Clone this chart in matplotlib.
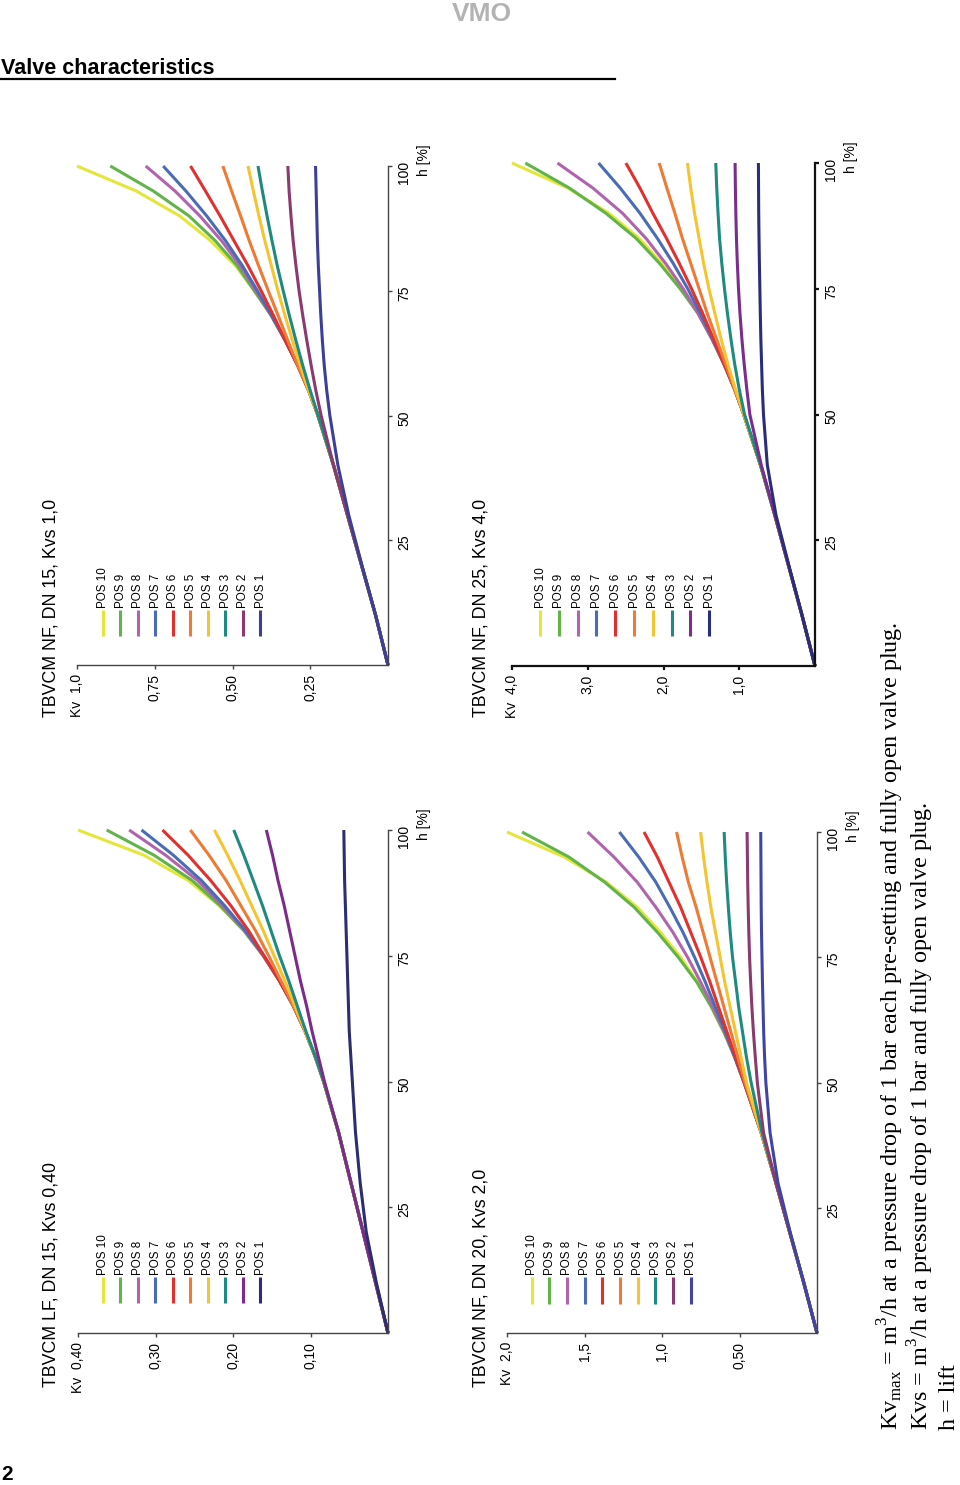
import matplotlib
matplotlib.use('Agg')
import matplotlib.pyplot as plt
from matplotlib.lines import Line2D

# ---------------- data ----------------
H = [0, 10, 20, 30, 40, 50, 55, 60, 65, 70, 75, 80, 85, 90, 95, 100]
POS_LABELS = ['POS 10', 'POS 9', 'POS 8', 'POS 7', 'POS 6',
              'POS 5', 'POS 4', 'POS 3', 'POS 2', 'POS 1']

# TBVCM LF, DN 15, Kvs 0,40  (rows POS 10 ... POS 1)
KV_LF15 = [
    [0, .016, .032, .048, .064, .083, .094, .107, .122, .140, .161, .186, .218, .258, .315, .400],
    [0, .016, .032, .048, .064, .083, .094, .107, .122, .140, .161, .186, .217, .253, .302, .363],
    [0, .016, .032, .048, .064, .083, .094, .107, .122, .140, .161, .185, .214, .246, .287, .334],
    [0, .016, .032, .048, .064, .083, .094, .107, .122, .140, .160, .184, .211, .241, .277, .318],
    [0, .016, .032, .048, .064, .083, .094, .107, .122, .140, .160, .180, .203, .229, .258, .291],
    [0, .016, .032, .048, .064, .083, .094, .107, .122, .138, .154, .171, .190, .209, .231, .255],
    [0, .016, .032, .048, .064, .083, .094, .107, .120, .133, .147, .161, .176, .191, .207, .224],
    [0, .016, .032, .048, .064, .083, .094, .106, .117, .128, .140, .151, .162, .174, .186, .199],
    [0, .016, .032, .048, .064, .082, .090, .098, .105, .113, .120, .127, .134, .142, .149, .157],
    [0, .015, .028, .036, .042, .046, .048, .050, .051, .052, .053, .054, .055, .056, .0565, .057],
]
# TBVCM NF, DN 15, Kvs 1,0
KV_NF15 = [
    [0, .04, .085, .13, .175, .225, .255, .29, .33, .375, .43, .49, .57, .67, .81, 1.0],
    [0, .04, .085, .13, .175, .225, .255, .29, .33, .375, .43, .485, .555, .64, .755, .893],
    [0, .04, .085, .13, .175, .225, .255, .29, .33, .375, .425, .475, .535, .605, .685, .779],
    [0, .04, .085, .13, .175, .225, .255, .29, .33, .374, .42, .468, .522, .583, .65, .723],
    [0, .04, .085, .13, .175, .225, .255, .29, .33, .368, .408, .45, .495, .54, .587, .635],
    [0, .04, .085, .13, .175, .225, .255, .29, .322, .353, .385, .416, .446, .474, .503, .531],
    [0, .04, .085, .13, .175, .225, .255, .282, .307, .331, .354, .375, .396, .415, .433, .45],
    [0, .04, .085, .13, .175, .225, .25, .274, .296, .317, .337, .356, .373, .389, .404, .418],
    [0, .04, .085, .13, .175, .215, .232, .247, .261, .274, .286, .296, .305, .312, .318, .322],
    [0, .04, .084, .126, .161, .187, .197, .205, .211, .216, .220, .224, .227, .229, .231, .233],
]
# TBVCM NF, DN 20, Kvs 2,0
KV_NF20 = [
    [0, .085, .175, .265, .36, .47, .53, .60, .68, .77, .88, 1.01, 1.16, 1.36, 1.63, 2.0],
    [0, .085, .175, .265, .36, .47, .53, .60, .68, .775, .895, 1.03, 1.18, 1.37, 1.60, 1.903],
    [0, .085, .175, .265, .36, .47, .53, .595, .67, .75, .835, .93, 1.04, 1.16, 1.31, 1.48],
    [0, .085, .175, .265, .36, .47, .53, .59, .655, .72, .79, .865, .95, 1.04, 1.15, 1.275],
    [0, .085, .175, .265, .36, .47, .525, .58, .635, .69, .75, .815, .88, .955, 1.03, 1.116],
    [0, .085, .175, .265, .36, .465, .51, .555, .60, .645, .69, .735, .78, .83, .87, .906],
    [0, .085, .175, .265, .36, .455, .49, .525, .56, .595, .625, .655, .685, .71, .732, .751],
    [0, .085, .175, .265, .355, .425, .455, .48, .505, .525, .545, .56, .572, .583, .592, .599],
    [0, .085, .175, .265, .345, .385, .398, .41, .42, .428, .435, .44, .444, .447, .449, .451],
    [0, .085, .172, .252, .303, .33, .338, .344, .348, .352, .355, .358, .36, .361, .362, .363],
]
# TBVCM NF, DN 25, Kvs 4,0
KV_NF25 = [
    [0, .17, .35, .53, .72, .94, 1.06, 1.20, 1.36, 1.54, 1.76, 2.02, 2.32, 2.72, 3.26, 4.0],
    [0, .17, .35, .53, .72, .94, 1.06, 1.20, 1.36, 1.54, 1.78, 2.05, 2.36, 2.76, 3.24, 3.824],
    [0, .17, .35, .53, .72, .94, 1.06, 1.20, 1.36, 1.54, 1.74, 1.97, 2.23, 2.54, 2.93, 3.40],
    [0, .17, .35, .53, .72, .94, 1.06, 1.20, 1.35, 1.51, 1.68, 1.87, 2.08, 2.31, 2.57, 2.857],
    [0, .17, .35, .53, .72, .94, 1.06, 1.20, 1.34, 1.48, 1.63, 1.79, 1.96, 2.14, 2.31, 2.497],
    [0, .17, .35, .53, .72, .94, 1.06, 1.18, 1.30, 1.42, 1.53, 1.64, 1.75, 1.85, 1.955, 2.057],
    [0, .17, .35, .53, .72, .94, 1.05, 1.15, 1.24, 1.32, 1.40, 1.47, 1.53, 1.59, 1.64, 1.684],
    [0, .17, .35, .53, .72, .93, 1.00, 1.06, 1.11, 1.155, 1.195, 1.23, 1.26, 1.28, 1.297, 1.31],
    [0, .17, .35, .53, .71, .86, .90, .935, .965, .99, 1.01, 1.025, 1.037, 1.045, 1.051, 1.055],
    [0, .17, .345, .515, .63, .68, .695, .705, .715, .722, .728, .734, .739, .743, .745, .747],
]

TICKS_LF15 = [0.10, 0.20, 0.30, 0.40]
TLAB_LF15 = ['0,10', '0,20', '0,30', 'Kv  0,40']
TICKS_NF15 = [0.25, 0.50, 0.75, 1.0]
TLAB_NF15 = ['0,25', '0,50', '0,75', 'Kv  1,0']
TICKS_NF20 = [0.5, 1.0, 1.5, 2.0]
TLAB_NF20 = ['0,50', '1,0', '1,5', 'Kv  2,0']
TICKS_NF25 = [1.0, 2.0, 3.0, 4.0]
TLAB_NF25 = ['1,0', '2,0', '3,0', 'Kv  4,0']
H_TICKS = [25, 50, 75, 100]
H_TLAB = ['25', '50', '75', '100']

# ---------------- styles ----------------
COLS_A = ['#e4e63a', '#62b44a', '#b064ae', '#4a6cb4', '#e2302e',
          '#ee7a34', '#f5c431', '#1f8a80', '#7d2b8b', '#2d2d72']
COLS_B = ['#e4e63a', '#62b44a', '#b064ae', '#4a6cb4', '#e2302e',
          '#ee7a34', '#f5c431', '#1f8a80', '#8a3a6e', '#3c3f98']
COLS_C = ['#e4e63a', '#62b44a', '#b064ae', '#4a6cb4', '#e2302e',
          '#ee7a34', '#f5c431', '#1f8a80', '#8a3a6e', '#4045a5']
COLS_D = ['#e4e63a', '#62b44a', '#b064ae', '#4a6cb4', '#e2302e',
          '#ee7a34', '#f5c431', '#1f8a80', '#7a2d8c', '#2a2c7c']

W, HP = 960, 1485
SANS = ['Liberation Sans', 'DejaVu Sans']
plt.rcParams['font.family'] = SANS

fig = plt.figure(figsize=(W / 100, HP / 100), dpi=100)


def fx(x):
    return x / W


def fy(y):
    return 1 - y / HP


def panel(px_left, px_right, px_top, px_bottom, kvs, xt, xtl, rows, cols,
          title, title_x, title_y, leg_x, leg_y0, leg_y1, spine_c, spine_w):
    ax = fig.add_axes([fx(px_left), fy(px_bottom), (px_right - px_left) / W,
                       (px_bottom - px_top) / HP])
    ax.set_xlim(kvs, 0)
    ax.set_ylim(0, 100)
    for s in ('top', 'left'):
        ax.spines[s].set_visible(False)
    for s in ('right', 'bottom'):
        ax.spines[s].set_color(spine_c)
        ax.spines[s].set_linewidth(spine_w)
    ax.patch.set_alpha(0)
    ax.yaxis.tick_right()
    ax.set_yticks(H_TICKS)
    ax.set_yticklabels(H_TLAB)
    ax.set_xticks(xt)
    ax.set_xticklabels(xtl)
    ax.tick_params(axis='both', direction='out', length=3, width=spine_w,
                   color=spine_c, labelsize=10, pad=3.5, labelrotation=90)
    for row, c in zip(rows, cols):
        ax.plot(row, H, color=c, lw=2.2, solid_capstyle='butt',
                solid_joinstyle='round', clip_on=False)
    ax.annotate('h [%]', xy=(0, 100), xycoords='data', xytext=(26, -7),
                textcoords='offset points', rotation=90, fontsize=10,
                ha='left', va='center', rotation_mode='anchor')
    fig.text(fx(title_x), fy(title_y), title, rotation=90, rotation_mode='anchor',
             ha='left', va='baseline', fontsize=12.8)
    for i, (lab, c) in enumerate(zip(POS_LABELS, cols)):
        x = leg_x[i]
        fig.add_artist(Line2D([fx(x), fx(x)], [fy(leg_y0), fy(leg_y1)],
                              transform=fig.transFigure, color=c, lw=2.2,
                              solid_capstyle='butt'))
        fig.text(fx(x + 0.5), fy(leg_y1 - 2), lab, rotation=90, rotation_mode='anchor',
                 ha='left', va='center', fontsize=8.4)
    return ax


LEG_A = [102.7, 120.2, 137.7, 155.2, 172.7, 190.2, 207.7, 225.2, 242.7, 260.2]
LEG_C = [531.7, 549.3, 567.0, 584.7, 602.3, 620.0, 637.6, 655.3, 672.9, 690.5]
LEG_D = [540.0, 558.8, 577.6, 596.4, 615.2, 634.0, 652.8, 671.6, 690.4, 709.2]

panel(78, 388, 830, 1333, 0.40, TICKS_LF15, TLAB_LF15, KV_LF15, COLS_A,
      'TBVCM LF, DN 15, Kvs 0,40', 55, 1387, LEG_A, 1303, 1277, '#454545', 1.0)
panel(77, 388, 166, 665, 1.0, TICKS_NF15, TLAB_NF15, KV_NF15, COLS_B,
      'TBVCM NF, DN 15, Kvs 1,0', 55, 717, LEG_A, 636, 610, '#454545', 1.0)
panel(507, 817, 832, 1333, 2.0, TICKS_NF20, TLAB_NF20, KV_NF20, COLS_C,
      'TBVCM NF, DN 20, Kvs 2,0', 485, 1387, LEG_C, 1304, 1277, '#454545', 1.0)
panel(512, 815, 163, 666, 4.0, TICKS_NF25, TLAB_NF25, KV_NF25, COLS_D,
      'TBVCM NF, DN 25, Kvs 4,0', 486, 717, LEG_D, 636, 610, '#111111', 1.6)

# ---------------- page furniture ----------------
fig.text(fx(482), fy(2), 'VMO', ha='center', va='top', fontsize=19,
         fontweight='bold', color='#b3b3b3')
fig.text(fx(1), fy(74), 'Valve characteristics', ha='left', va='baseline',
         fontsize=15.5, fontweight='bold')
fig.add_artist(Line2D([0, fx(615)], [fy(79), fy(79)], transform=fig.transFigure,
                      color='black', lw=1.6))
fig.text(fx(1), fy(1484), '2', ha='left', va='bottom', fontsize=15,
         fontweight='bold')

SERIF = ['Liberation Serif', 'DejaVu Serif']
NOTES = [r'Kv$_\mathregular{max}$ = m$^\mathregular{3}$/h at a pressure drop of 1 bar each pre-setting and fully open valve plug.',
         r'Kvs = m$^\mathregular{3}$/h at a pressure drop of 1 bar and fully open valve plug.',
         'h = lift']
NOTE_X = [898, 928, 955]
for t, x in zip(NOTES, NOTE_X):
    fig.text(fx(x), fy(1430), t, rotation=90, rotation_mode='anchor', ha='left',
             va='baseline', fontsize=17.4, family=SERIF)

fig.savefig('out.png', dpi=100)
